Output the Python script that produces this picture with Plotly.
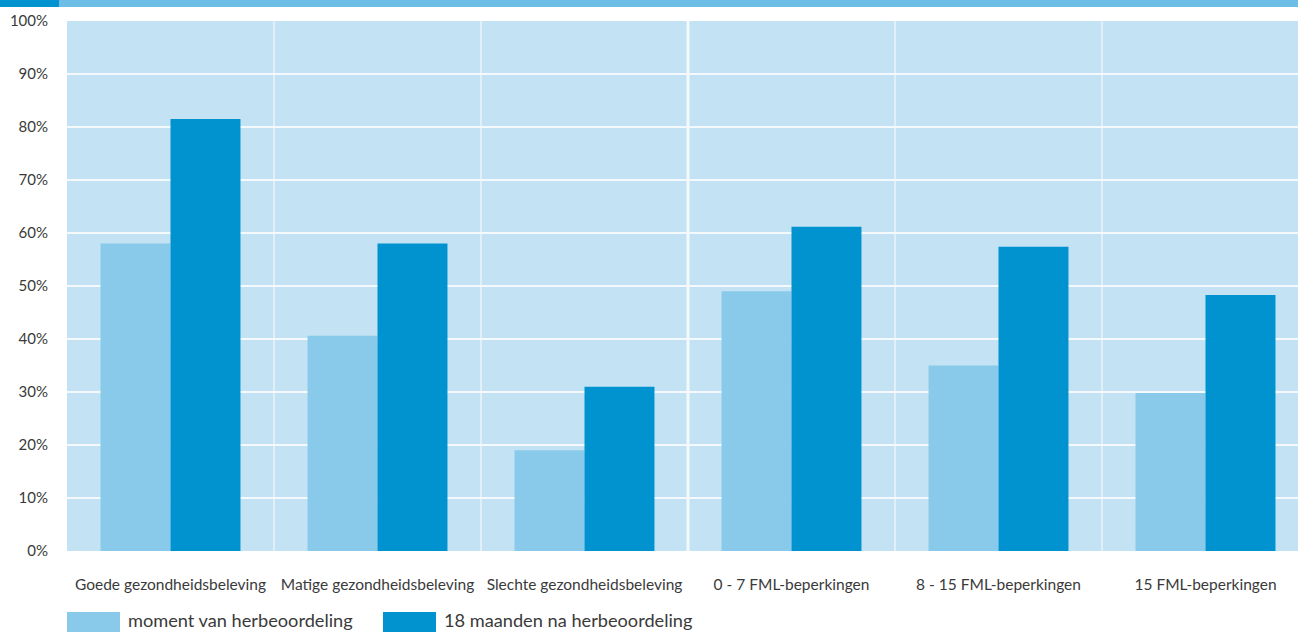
import plotly.graph_objects as go

categories = [
    "Goede gezondheidsbeleving",
    "Matige gezondheidsbeleving",
    "Slechte gezondheidsbeleving",
    "0 - 7 FML-beperkingen",
    "8 - 15 FML-beperkingen",
    "15 FML-beperkingen",
]
series_names = ["moment van herbeoordeling", "18 maanden na herbeoordeling"]
moment = [58, 40.6, 19, 49, 35, 29.8]
na18 = [81.5, 58, 31, 61.2, 57.4, 48.3]
y_ticks = [0, 10, 20, 30, 40, 50, 60, 70, 80, 90, 100]
y_ticklabels = [f"{v}%" for v in y_ticks]

LIGHT = "#89C9EA"
DARK = "#0093D0"
BG = "#C3E2F3"
FONT = "Lato"

W, H = 1298, 632
ML, MT, MB = 67, 21, 81
plot_h = H - MT - MB

fig = go.Figure()
fig.add_trace(go.Bar(x=categories, y=moment, name=series_names[0],
                     marker=dict(color=LIGHT, line=dict(width=0))))
fig.add_trace(go.Bar(x=categories, y=na18, name=series_names[1],
                     marker=dict(color=DARK, line=dict(width=0))))

shapes = []
# vertical separators between categories
for xv in [0.5, 1.5, 2.5, 3.5, 4.5]:
    shapes.append(dict(type="line", xref="x", yref="paper", x0=xv, x1=xv, y0=0, y1=1,
                       line=dict(color="#F4F9FC", width=3 if xv == 2.5 else 1.2),
                       layer="below"))


def py(px):
    return (H - MB - px) / plot_h


def pxr(px):
    return (px - ML) / (W - ML)


# top banner
shapes.append(dict(type="rect", xref="paper", yref="paper",
                   x0=pxr(0), x1=pxr(59), y0=py(7), y1=py(0),
                   fillcolor=DARK, line=dict(width=0)))
shapes.append(dict(type="rect", xref="paper", yref="paper",
                   x0=pxr(59), x1=1, y0=py(7), y1=py(0),
                   fillcolor="#6CBEE6", line=dict(width=0)))
# legend swatches
annotations = []
leg = [(67, LIGHT, series_names[0]), (383, DARK, series_names[1])]
for x0, col, name in leg:
    shapes.append(dict(type="rect", xref="paper", yref="paper",
                       x0=pxr(x0), x1=pxr(x0 + 53),
                       y0=py(632), y1=py(612), fillcolor=col, line=dict(width=0)))
    annotations.append(dict(xref="paper", yref="paper", x=pxr(x0 + 59),
                            y=py(620), text=name, showarrow=False, xanchor="left",
                            yanchor="middle",
                            font=dict(family=FONT, size=18.2, color="#3a3a3a")))

fig.update_layout(
    width=W, height=H,
    margin=dict(l=ML, r=0, t=MT, b=MB, pad=0),
    paper_bgcolor="white",
    plot_bgcolor=BG,
    barmode="group",
    bargap=0.324,
    bargroupgap=0,
    showlegend=False,
    shapes=shapes,
    annotations=annotations,
    font=dict(family=FONT, color="#3a3a3a"),
)
fig.update_xaxes(range=[-0.5, 5.5 - 11 / 207], showgrid=False, zeroline=False,
                 showline=False, ticks="", tickfont=dict(family=FONT, size=15.5, color="#3a3a3a"),
                 ticklabelstandoff=22, fixedrange=True)
fig.update_yaxes(range=[0, 100], tickvals=y_ticks, ticktext=y_ticklabels,
                 showgrid=True, gridcolor="#F4F9FC", gridwidth=1.5, zeroline=False,
                 showline=False, ticks="", tickfont=dict(family=FONT, size=15, color="#3a3a3a"),
                 ticklabelstandoff=18, fixedrange=True)

fig.write_html("out.html", config={"displayModeBar": False},
               post_script="document.body.style.margin='0px';")
